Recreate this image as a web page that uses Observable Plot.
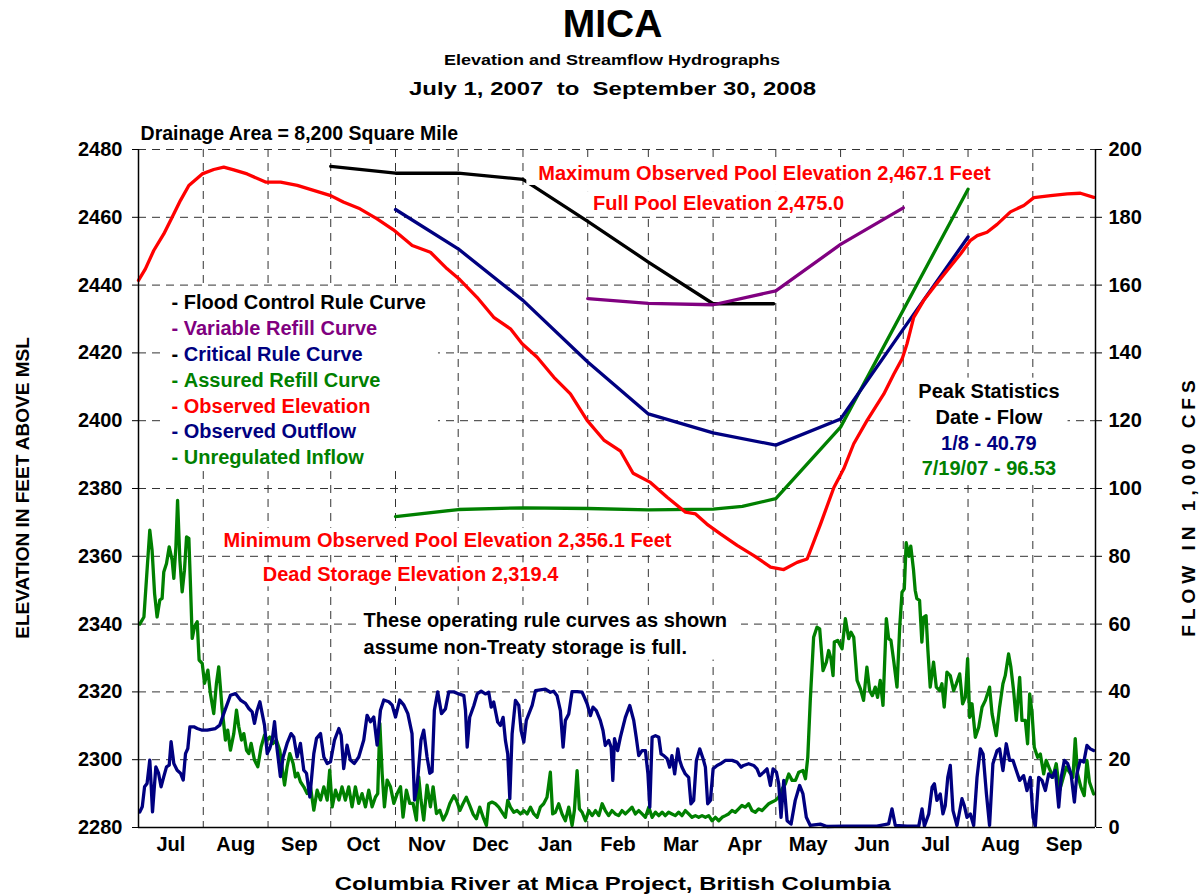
<!DOCTYPE html>
<html>
<head>
<meta charset="utf-8">
<script src="https://cdn.jsdelivr.net/npm/d3@7"></script>
<script src="https://cdn.jsdelivr.net/npm/@observablehq/plot@0.6"></script>
<style>
  body { margin: 0; background: #fff; }
  #wrap { position: relative; width: 1203px; height: 894px; overflow: hidden;
          font-family: "Liberation Sans", Arial, Helvetica, sans-serif; font-weight: bold; color: #000; }
  .row { position: absolute; left: 11px; width: 1203px; text-align: center; line-height: 1; white-space: pre; }
  .row span { display: inline-block; }
  .vt { position: absolute; white-space: pre; line-height: 1; font-size: 19px; }
  #chart { position: absolute; left: 0; top: 110px; }
</style>
</head>
<body>
<div id="wrap">
  <div class="row" style="top:4px;font-size:39px;"><span>MICA</span></div>
  <div class="row" style="top:52px;font-size:15px;"><span style="transform:scaleX(1.2)">Elevation and Streamflow Hydrographs</span></div>
  <div class="row" style="top:79px;font-size:19px;"><span style="transform:scaleX(1.26)">July 1, 2007  to  September 30, 2008</span></div>
  <div class="row" style="top:874px;font-size:19px;"><span style="transform:scaleX(1.26)">Columbia River at Mica Project, British Columbia</span></div>
  <div class="vt" style="left:22px;top:488px;transform:translate(-50%,-50%) rotate(-90deg);">ELEVATION IN FEET ABOVE MSL</div>
  <div class="vt" style="left:1188px;top:506px;transform:translate(-50%,-50%) rotate(-90deg);letter-spacing:5px;">FLOW IN 1,000 CFS</div>
  <div id="chart"></div>
</div>
<script>
// ---------------- DATA ----------------
// Month labels along the x axis (Jul 2007 .. Sep 2008)
const monthLabels = ["Jul","Aug","Sep","Oct","Nov","Dec","Jan","Feb","Mar","Apr","May","Jun","Jul","Aug","Sep"];

// Observed elevation (feet) : [days since Jul 1 2007, elevation]
const observedElevation = [
 [0,2441.4],[3.3,2444.8],[7.3,2450.2],[12.1,2455.1],[16.1,2460.0],[20.1,2465.0],[24.1,2469.4],[30.5,2472.8],
 [36,2474.1],[40.8,2474.8],[45.6,2474.0],[52,2472.8],[60.8,2470.4],[68,2470.4],[76,2469.4],[83,2468.1],
 [92,2466.4],[98,2464.5],[106,2462.5],[114,2459.6],[122,2456.3],[131,2451.7],[139.7,2449.7],[147.7,2444.8],
 [153.3,2441.9],[162,2436.4],[170,2430.5],[178,2427.1],[183.6,2422.7],[190.8,2418.7],[198.8,2412.8],[206.7,2407.9],
 [214.7,2400.1],[222.7,2394.3],[230.7,2391.0],[236.7,2384.5],[245,2381.8],[253,2377.4],[261.8,2373.0],[266.6,2372.5],
 [272,2369.5],[278.5,2366.6],[286.5,2363.2],[294.5,2360.2],[302.5,2356.8],[308.8,2356.1],[315.2,2358.2],[320,2359.2],
 [326.4,2369.5],[332.8,2380.3],[337.5,2385.8],[342.3,2393.2],[348.7,2400.1],[356.7,2407.9],[361.5,2413.8],[365.5,2418.3],
 [367.8,2422.7],[371,2430.5],[375.8,2435.5],[380.6,2439.4],[387,2444.3],[393.4,2449.2],[398.2,2453.2],[401.4,2454.6],
 [406.1,2455.6],[410.9,2457.9],[417.3,2461.6],[423.7,2463.5],[428.5,2465.8],[436.5,2466.4],[444.5,2466.9],[450.8,2467.1],
 [457.2,2465.9]
];

// Rule curves (feet)
const floodControlCurve = [["2007-10-01",2475.0],["2007-11-01",2473.0],["2007-12-01",2473.0],["2008-01-01",2471.2],
 ["2008-02-01",2458.8],["2008-03-01",2446.8],["2008-04-01",2434.5],["2008-04-30",2434.5]];
const variableRefillCurve = [["2008-02-01",2436.0],["2008-03-01",2434.6],["2008-04-01",2434.2],["2008-05-01",2438.3],
 ["2008-06-01",2452.0],["2008-07-01",2462.8]];
const criticalRuleCurve = [["2007-11-01",2462.3],["2007-12-01",2450.7],["2008-01-01",2435.5],["2008-02-01",2417.3],
 ["2008-03-01",2402.0],["2008-04-01",2396.4],["2008-05-01",2392.8],["2008-06-01",2400.5],["2008-07-01",2427.0],["2008-08-01",2454.2]];
const assuredRefillCurve = [["2007-11-01",2371.7],["2007-12-01",2373.8],["2008-01-01",2374.3],["2008-02-01",2374.1],
 ["2008-03-01",2373.7],["2008-04-01",2373.9],["2008-04-15",2374.7],["2008-05-01",2377.0],["2008-06-01",2398.1],["2008-08-01",2468.3]];

// Observed outflow (1,000 cfs) : [days since Jul 1 2007, flow]
const observedOutflow = [
 [0.6,4.6],[1.8,6.1],[2.9,12],[4.1,13],[5.4,19.9],[6.1,12],[6.7,4.6],[8.3,17.9],[9.6,16],[10.8,12],[12.1,15],[13.4,17.9],
 [14.7,18.4],[15.6,25.3],[16.9,18.9],[18.5,16.9],[20.1,16],[21.4,14],[22.5,21.8],[23.6,23.3],[24.6,29.7],[26.5,29.7],
 [28.1,29.2],[30.5,28.7],[32.9,28.7],[36.8,29.2],[38.9,30.2],[40.8,33.6],[44.0,39],[46.4,39.5],[48.8,37.6],[51.2,36.6],
 [52.8,35.1],[54.4,34.1],[55.5,30.7],[56.8,34.6],[58.1,37.1],[59.2,33.6],[60.3,30.2],[61.6,21.8],[62.8,23.3],[64.0,25.8],
 [65.1,31.2],[66.3,23.3],[67.9,15],[69.2,20.8],[71.1,24.8],[73.0,27.7],[74.3,26.7],[75.9,20.8],[77.5,24.8],[79.1,16.9],
 [80.4,16],[82.0,9],[83.9,21.8],[85.2,26.3],[87.1,27.7],[88.7,20.8],[90.3,18.9],[91.9,19.4],[93.8,25.8],[95.9,29.2],
 [97.0,27.2],[98.2,17.4],[99.8,24.3],[101.4,19.9],[103.3,18.9],[105.4,20.8],[107.8,25.8],[109.4,33.1],[111.0,31.2],
 [112.6,32.6],[114.2,24.3],[115.8,34.6],[117.4,37.6],[119.8,37.1],[121.4,36.1],[123.0,32.6],[125.0,37.6],[127.0,36.1],
 [128.9,33.6],[130.9,27.7],[132.1,8.1],[133.3,12],[135.2,25.8],[136.5,28.7],[138.1,20.8],[139.4,16],[140.5,16.5],
 [141.6,34.6],[143.2,40],[145.0,33.6],[146.9,35],[148.5,40],[150.9,40],[153.3,39.4],[155.7,38.9],[156.5,34.5],[157.3,23.7],
 [158.5,32.5],[160.5,36],[162.1,39.4],[164.0,40.2],[166.0,39.4],[167.6,39.9],[168.8,35.5],[170.0,37],[171.9,31.1],
 [173.2,30.1],[174.5,32.5],[175.6,25.7],[176.7,21.7],[177.7,8.5],[178.8,27.6],[180.4,37.5],[182.0,36],[183.1,28.6],
 [184.4,25.2],[185.6,31.6],[188.4,36],[190.0,40.4],[192.3,40.6],[194.7,40.8],[197.1,39.9],[198.7,40.2],[200.3,38.9],
 [201.9,34.5],[203.2,23.7],[204.3,31.6],[205.9,33.5],[207.5,40.1],[209.9,40.1],[212.3,39.9],[213.4,38.4],[214.7,36.5],
 [216.3,33],[217.5,35.5],[219.1,34.5],[221.0,31.6],[222.3,28.6],[223.4,24.2],[225.0,25.7],[226.2,23.7],[227.0,13.9],
 [227.8,26.2],[229.3,22.7],[230.6,26.6],[233.0,32.5],[235.1,36],[237.0,31.6],[238.2,26.6],[239.4,21.2],[241.0,22.7],
 [242.6,22.7],[243.8,15.8],[244.7,6],[245.8,26.6],[247.4,27.1],[249.0,26.6],[250.1,21.7],[251.4,21.2],[253.0,20.3],
 [254.2,17.8],[255.3,21.2],[256.6,15.8],[258.1,23.2],[259.0,19.8],[260.1,17.8],[261.7,15.8],[263.3,14.8],[264.4,7],
 [265.7,8],[267.0,19.8],[268.6,23.2],[270.2,20.3],[271.3,17.8],[272.4,7],[273.7,8],[275.0,17.3],[276.9,18.3],[278.5,18.8],
 [280.9,19.8],[284.1,19.8],[286.4,19.3],[288.4,17.8],[289.6,18.3],[292.0,18.8],[294.4,18.3],[296.0,17.3],[297.3,15.3],
 [299.2,16.3],[300.8,17.3],[302.4,12.4],[303.7,17.3],[305.3,16.3],[306.4,12.9],[307.5,3],[308.8,13.9],[310.4,2],[312.3,1],
 [314.3,8],[316.4,12.4],[318.0,9.9],[319.6,3],[321.5,0.6],[326.3,1],[329.5,0.3],[337.5,0.4],[345.5,0.4],[353.4,0.4],
 [359.0,1.1],[360.6,5.5],[362.2,0.6],[367.8,0.4],[373.4,0.4],[375.0,5.5],[376.1,0.4],[378.2,4],[379.8,11.9],[380.9,12.9],
 [382.1,8],[383.7,9.9],[385.0,4],[386.1,6.5],[387.3,14.8],[388.5,18.3],[389.8,5],[391.7,0.6],[394.1,8.5],[395.2,6.5],
 [396.5,3],[398.1,4],[399.7,0.6],[401.3,14.8],[402.9,23.2],[404.2,21.7],[405.8,9.9],[407.3,0.6],[408.9,18.8],[410.9,22.7],
 [412.1,23.2],[413.7,16.8],[415.3,24.7],[416.9,19.8],[418.5,19.8],[420.1,16.8],[421.7,13.9],[423.6,15.3],[425.2,10.9],
 [426.8,14.8],[428.1,3],[429.2,0.4],[430.8,14.8],[432.4,13.9],[434.0,10.9],[435.6,15.8],[437.2,14.8],[438.8,16.8],
 [440.4,6],[441.6,14.8],[443.1,19.8],[444.7,18.8],[446.3,15.8],[447.9,7.5],[449.1,15.8],[450.7,19.8],[452.4,19.3],
 [453.9,24.2],[455.5,23.2],[457.1,22.7]
];

// Unregulated inflow (1,000 cfs) : [days since Jul 1 2007, flow]
const unregulatedInflow = [
 [0.6,60],[2.6,62.1],[4.1,75.9],[5.4,87.7],[6.5,81.8],[7.7,69],[8.9,62.1],[10.2,67.1],[11.3,67.6],[12.1,75.4],[13.4,77.9],
 [14.7,82.8],[16.1,78.9],[16.9,73.5],[17.9,82.8],[18.7,96.5],[19.8,78.9],[20.9,69.5],[22.0,75.9],[23.0,85.7],[24.1,85.3],
 [24.9,71],[25.7,55.8],[26.8,59.2],[28.1,60.7],[29.0,49.4],[30.5,48.4],[31.6,42.5],[33.2,46.4],[34.4,39.5],[36.0,33.6],
 [37.3,42.5],[38.4,47.4],[40.0,35.1],[41.6,25.8],[42.7,28.7],[44.0,22.8],[45.6,27.7],[46.9,34.6],[48.0,29.7],[49.3,25.8],
 [50.4,27.7],[51.7,22.8],[52.8,21.8],[53.9,24.8],[55.5,19.9],[57.1,17.9],[58.7,23.8],[60.3,27.2],[61.6,25.8],[62.8,26.7],
 [64.4,24.8],[66.0,25.8],[67.6,22.8],[68.7,17.9],[69.9,12.5],[71.1,17.9],[72.4,21.8],[74.0,18.9],[75.1,14.9],[76.2,16],
 [77.5,13.5],[79.1,12],[80.7,10],[82.3,12],[83.9,5.1],[85.5,11],[87.1,8.1],[88.7,12],[90.3,8.1],[91.5,16.9],[92.7,6.1],
 [94.3,11],[95.9,8.1],[97.4,12],[99.0,8.1],[100.6,12],[102.2,6.1],[103.8,12],[105.4,7.1],[107.0,10],[108.6,6.1],[110.2,11],
 [111.8,6.1],[113.4,9],[114.5,10],[115.5,30.7],[116.6,16],[117.7,6.1],[119.0,14],[120.6,12],[122.2,7.1],[123.8,10],
 [125.4,12],[126.6,3.1],[128.2,11],[129.8,7.1],[131.4,7.1],[133.0,2.2],[134.1,14.9],[135.2,8.1],[136.5,2.2],[138.1,12.5],
 [139.7,6.1],[141.0,12],[142.6,4.1],[144.2,5.1],[145.8,2.2],[147.4,4.1],[149.0,7.1],[150.9,9.4],[152.2,8],[153.8,5],
 [155.3,7],[156.9,8.9],[158.5,6.5],[160.1,4],[161.7,2.6],[163.3,6],[165.2,2.6],[166.5,0.6],[167.6,7],[169.2,7.5],[170.8,7],
 [172.4,6],[174.0,4.5],[175.6,3],[176.7,8],[178.0,6],[179.6,4.5],[181.2,5],[182.8,4],[184.4,5],[186.0,4],[187.6,6],
 [189.2,4],[190.8,3],[192.3,6],[193.9,7],[195.5,8.9],[197.1,16.3],[198.2,4],[199.5,4.5],[201.1,7],[202.7,4],[204.3,2],
 [205.9,6],[207.5,0.6],[208.6,5],[209.9,16.8],[211.0,5.5],[212.3,4.5],[213.9,2],[215.5,5],[217.1,3.5],[218.7,5],[220.3,3.5],
 [221.9,7],[223.4,5],[225.0,3.5],[226.6,5],[228.2,4],[229.8,3.5],[231.4,5],[233.0,4],[234.6,5],[236.2,6],[237.8,4],
 [239.4,5],[241.0,4],[242.6,3],[244.2,6],[245.8,3],[247.4,4.5],[249.0,3.5],[250.6,4.5],[252.1,3.5],[253.7,4.5],[255.3,4],
 [256.9,3.5],[258.5,4.5],[260.1,3.5],[261.7,5],[263.3,4],[264.9,3],[266.5,3.5],[268.1,3],[269.7,3.5],[271.3,3],[272.9,3.5],
 [274.5,2],[276.1,3],[277.7,2],[279.3,3],[280.9,3.5],[282.4,4],[284.0,5],[285.6,4.5],[287.2,5.5],[288.8,6.5],[290.4,6],
 [292.0,7],[293.6,5],[295.2,4.5],[296.8,5.5],[298.4,5],[300.0,6],[301.6,7],[303.2,7.5],[304.8,8],[306.4,8.9],[308.0,11.4],
 [309.6,12.9],[311.2,15.8],[312.8,13.9],[314.4,13.9],[316.0,16.3],[318.0,16.8],[319.2,14.4],[320.3,20.7],[321.5,37.5],
 [323.1,56.1],[324.7,59.1],[326.0,58.6],[327.6,46.3],[329.2,48.8],[330.3,52.2],[331.4,49.8],[332.4,44.8],[333.0,54.7],
 [334.6,55.2],[336.7,52.7],[338.3,61.6],[339.9,55.7],[341.0,57.6],[342.3,56.1],[343.9,43.4],[345.5,40.9],[347.0,37.5],
 [348.6,47.3],[349.9,40.4],[351.2,38.9],[352.6,41.4],[353.7,38.4],[355.0,43.4],[356.3,36],[357.9,61.6],[359.0,55.7],
 [360.1,55.2],[361.4,49.3],[363.0,41.4],[364.3,59.1],[365.4,69.4],[366.5,70.4],[367.4,84],[368.7,80],[369.6,83],[370.9,76],
 [371.7,70],[372.5,67.5],[373.8,67],[374.9,54.7],[375.7,62],[376.9,62.5],[377.8,52.2],[378.9,41.4],[380.5,48.8],[381.8,41.4],
 [383.4,40.4],[384.5,42.4],[385.6,35.5],[386.9,45.8],[388.5,44.8],[390.1,40.4],[391.4,42.4],[393.0,45.3],[394.4,36.5],
 [395.7,38.4],[396.8,49.8],[397.8,32.5],[398.9,36.5],[400.5,26.6],[402.1,29.6],[403.7,35.5],[405.3,37.5],[407.3,41.4],
 [408.5,33.5],[410.5,27.1],[412.1,35.5],[413.7,42.4],[414.8,44.8],[416.4,51.2],[417.5,47.3],[418.8,40.4],[420.1,31.6],
 [421.7,44.3],[422.8,31.6],[424.4,31.6],[425.5,24.7],[426.5,39.4],[427.6,34],[428.7,23.7],[430.3,20.7],[431.6,21.7],
 [433.2,15.8],[434.4,19.8],[436.0,17.3],[437.6,14.8],[439.2,18.8],[440.8,10.9],[442.4,14.4],[444.0,17.8],[445.6,16.3],
 [447.2,14.8],[448.3,26.2],[449.4,15.8],[451.0,11.9],[452.6,9.4],[453.9,19.8],[455.1,13.4],[457.1,9.9]
];

// Legend entries and text notes
const legendLabels = ["Flood Control Rule Curve","Variable Refill Curve","Critical Rule Curve","Assured Refill Curve",
 "Observed Elevation","Observed Outflow","Unregulated Inflow"];
const peakLines = ["Peak Statistics","Date - Flow","1/8 - 40.79","7/19/07 - 96.53"];

// ---------------- CHART ----------------
const DAY = 864e5;
const T0 = Date.UTC(2007, 6, 1);
const day = d => new Date(T0 + d * DAY);
const xStart = new Date(T0), xEnd = new Date(Date.UTC(2008, 9, 1));
const FLOW0 = 2280; // flow 0 sits on elevation 2280 (right axis = left axis - 2280)

const RED = "#FF0000", NAVY = "#000080", GREEN = "#008000", PURPLE = "#800080", BLACK = "#000000";
const LW = 3.3;

const elevRows = observedElevation.map(([d, v]) => ({date: day(d), y: v}));
const outRows = observedOutflow.map(([d, v]) => ({date: day(d), y: v + FLOW0}));
const inRows = unregulatedInflow.map(([d, v]) => ({date: day(d), y: v + FLOW0}));
const curve = arr => arr.map(([s, v]) => ({date: new Date(s), y: v}));

const monthStarts = d3.utcMonths(xStart, xEnd);            // Jul 1 2007 .. Sep 1 2008
const monthMids = monthStarts.map(m => new Date((+m + +d3.utcMonth.offset(m, 1)) / 2));
const gridMonths = monthStarts.slice(1);
const yTicks = d3.range(2280, 2481, 20);
const monthIndex = d => (d.getUTCFullYear() - 2007) * 12 + d.getUTCMonth() - 6;

const FONT = 20;
const txt = {fontSize: FONT, fontWeight: "bold", lineAnchor: "middle"};

// legend layout (data coordinates)
const legX = day(15.8);
const legRows = legendLabels.map((label, i) => ({
  label, x: legX, y: 2434.7 - i * 7.6,
  color: [BLACK, PURPLE, NAVY, GREEN, RED, NAVY, GREEN][i],
  dash: [BLACK, PURPLE, BLACK, GREEN, RED, NAVY, GREEN][i]
}));
const peakRows = peakLines.map((t, i) => ({t, x: day(407), y: [2408.7, 2400.8, 2393.3, 2386.0][i],
  color: [BLACK, BLACK, NAVY, GREEN][i]}));

const note = (label, text, x, y, fill, anchor = "middle", extra = {}) =>
  Plot.text([text], {x: () => x, y: () => y, text: d => d, fill, textAnchor: anchor, ariaDescription: label, ...txt, ...extra});

const plot = Plot.plot({
  width: 1203,
  height: 760,
  marginTop: 39,
  marginBottom: 43,
  marginLeft: 138,
  marginRight: 108,
  x: {type: "utc", domain: [xStart, xEnd]},
  y: {domain: [2280, 2480]},
  color: {type: "identity"},
  style: {fontFamily: '"Liberation Sans", Arial, sans-serif', fontWeight: "bold", fontSize: "20px", background: "transparent", overflow: "visible"},
  marks: [
    Plot.gridY(yTicks.slice(1), {stroke: "#333", strokeOpacity: 1, strokeWidth: 1, strokeDasharray: "8,6"}),
    Plot.gridX(gridMonths, {stroke: "#333", strokeOpacity: 1, strokeWidth: 1, strokeDasharray: "8,6"}),
    Plot.line(inRows, {x: "date", y: "y", stroke: GREEN, strokeWidth: LW}),
    Plot.line(outRows, {x: "date", y: "y", stroke: NAVY, strokeWidth: LW}),
    Plot.line(curve(assuredRefillCurve), {x: "date", y: "y", stroke: GREEN, strokeWidth: LW}),
    Plot.line(curve(criticalRuleCurve), {x: "date", y: "y", stroke: NAVY, strokeWidth: LW}),
    Plot.line(curve(floodControlCurve), {x: "date", y: "y", stroke: BLACK, strokeWidth: LW}),
    Plot.line(curve(variableRefillCurve), {x: "date", y: "y", stroke: PURPLE, strokeWidth: LW}),
    Plot.line(elevRows, {x: "date", y: "y", stroke: RED, strokeWidth: LW}),
    Plot.ruleX([xStart, xEnd], {stroke: "#000", strokeWidth: 1.5}),
    Plot.ruleY([2280], {stroke: "#000", strokeWidth: 1.5}),
    Plot.axisY(yTicks, {anchor: "left", label: null, tickSize: 6, tickPadding: 10, tickFormat: d => String(d), fontSize: FONT, fontWeight: "bold"}),
    Plot.axisY(yTicks, {anchor: "right", label: null, tickSize: 6, tickPadding: 7, tickFormat: d => String(d - FLOW0), fontSize: FONT, fontWeight: "bold"}),
    Plot.axisX(monthMids, {anchor: "bottom", label: null, tickSize: 0, tickPadding: 9, tickFormat: d => monthLabels[monthIndex(d)], fontSize: FONT, fontWeight: "bold"}),
    // notes
    note("note-drain", "Drainage Area = 8,200 Square Mile", day(1), 2480, BLACK, "start", {dy: -16, fontSize: 19.5}),
    note("note-max", "Maximum Observed Pool Elevation 2,467.1 Feet", day(299.6), 2472.9, RED),
    note("note-full", "Full Pool Elevation 2,475.0", day(277.6), 2464.0, RED),
    note("note-min", "Minimum Observed Pool Elevation 2,356.1 Feet", day(147.9), 2364.7, RED),
    note("note-dead", "Dead Storage Elevation 2,319.4", day(130.2), 2354.5, RED),
    Plot.text(["These operating rule curves as shown", "assume non-Treaty storage is full."],
      {x: () => day(107.7), y: (d, i) => [2340.9, 2333.2][i], text: d => d, fill: BLACK, textAnchor: "start", ariaDescription: "note-ops", ...txt}),
    Plot.text(peakRows, {x: "x", y: "y", text: "t", fill: "color", textAnchor: "middle", ariaDescription: "note-peak", ...txt}),
    Plot.text(legRows, {x: "x", y: "y", text: () => "-", fill: "dash", textAnchor: "start", ariaDescription: "note-legend", ...txt}),
    Plot.text(legRows, {x: "x", y: "y", text: "label", fill: "color", textAnchor: "start", dx: 0.611 * FONT, ariaDescription: "note-legend", ...txt})
  ]
});

document.getElementById("chart").appendChild(plot);

// white boxes behind the text notes (they hide grid lines as in the original)
function addBox(svg, label, padL, padR, padY) {
  const groups = svg.querySelectorAll(`g[aria-description="${label}"]`);
  if (!groups.length) return;
  const sr = svg.getBoundingClientRect();
  let x0 = Infinity, y0 = Infinity, x1 = -Infinity, y1 = -Infinity;
  groups.forEach(g => g.querySelectorAll("text").forEach(t => {
    const r = t.getBoundingClientRect();
    x0 = Math.min(x0, r.left); y0 = Math.min(y0, r.top);
    x1 = Math.max(x1, r.right); y1 = Math.max(y1, r.bottom);
  }));
  const rect = document.createElementNS("http://www.w3.org/2000/svg", "rect");
  rect.setAttribute("x", x0 - sr.left - padL);
  rect.setAttribute("y", y0 - sr.top - padY);
  rect.setAttribute("width", x1 - x0 + padL + padR);
  rect.setAttribute("height", y1 - y0 + 2 * padY);
  rect.setAttribute("fill", "#fff");
  groups[0].parentNode.insertBefore(rect, groups[0]);
}
const svg = plot.tagName.toLowerCase() === "svg" ? plot : plot.querySelector("svg");
addBox(svg, "note-max", 12, 8, 1);
addBox(svg, "note-full", 8, 8, 1);
addBox(svg, "note-min", 6, 6, 1);
addBox(svg, "note-dead", 6, 6, 1);
addBox(svg, "note-ops", 6, 14, 2);
addBox(svg, "note-peak", 8, 8, 2);
addBox(svg, "note-legend", 8, 12, 3);
</script>
</body>
</html>
